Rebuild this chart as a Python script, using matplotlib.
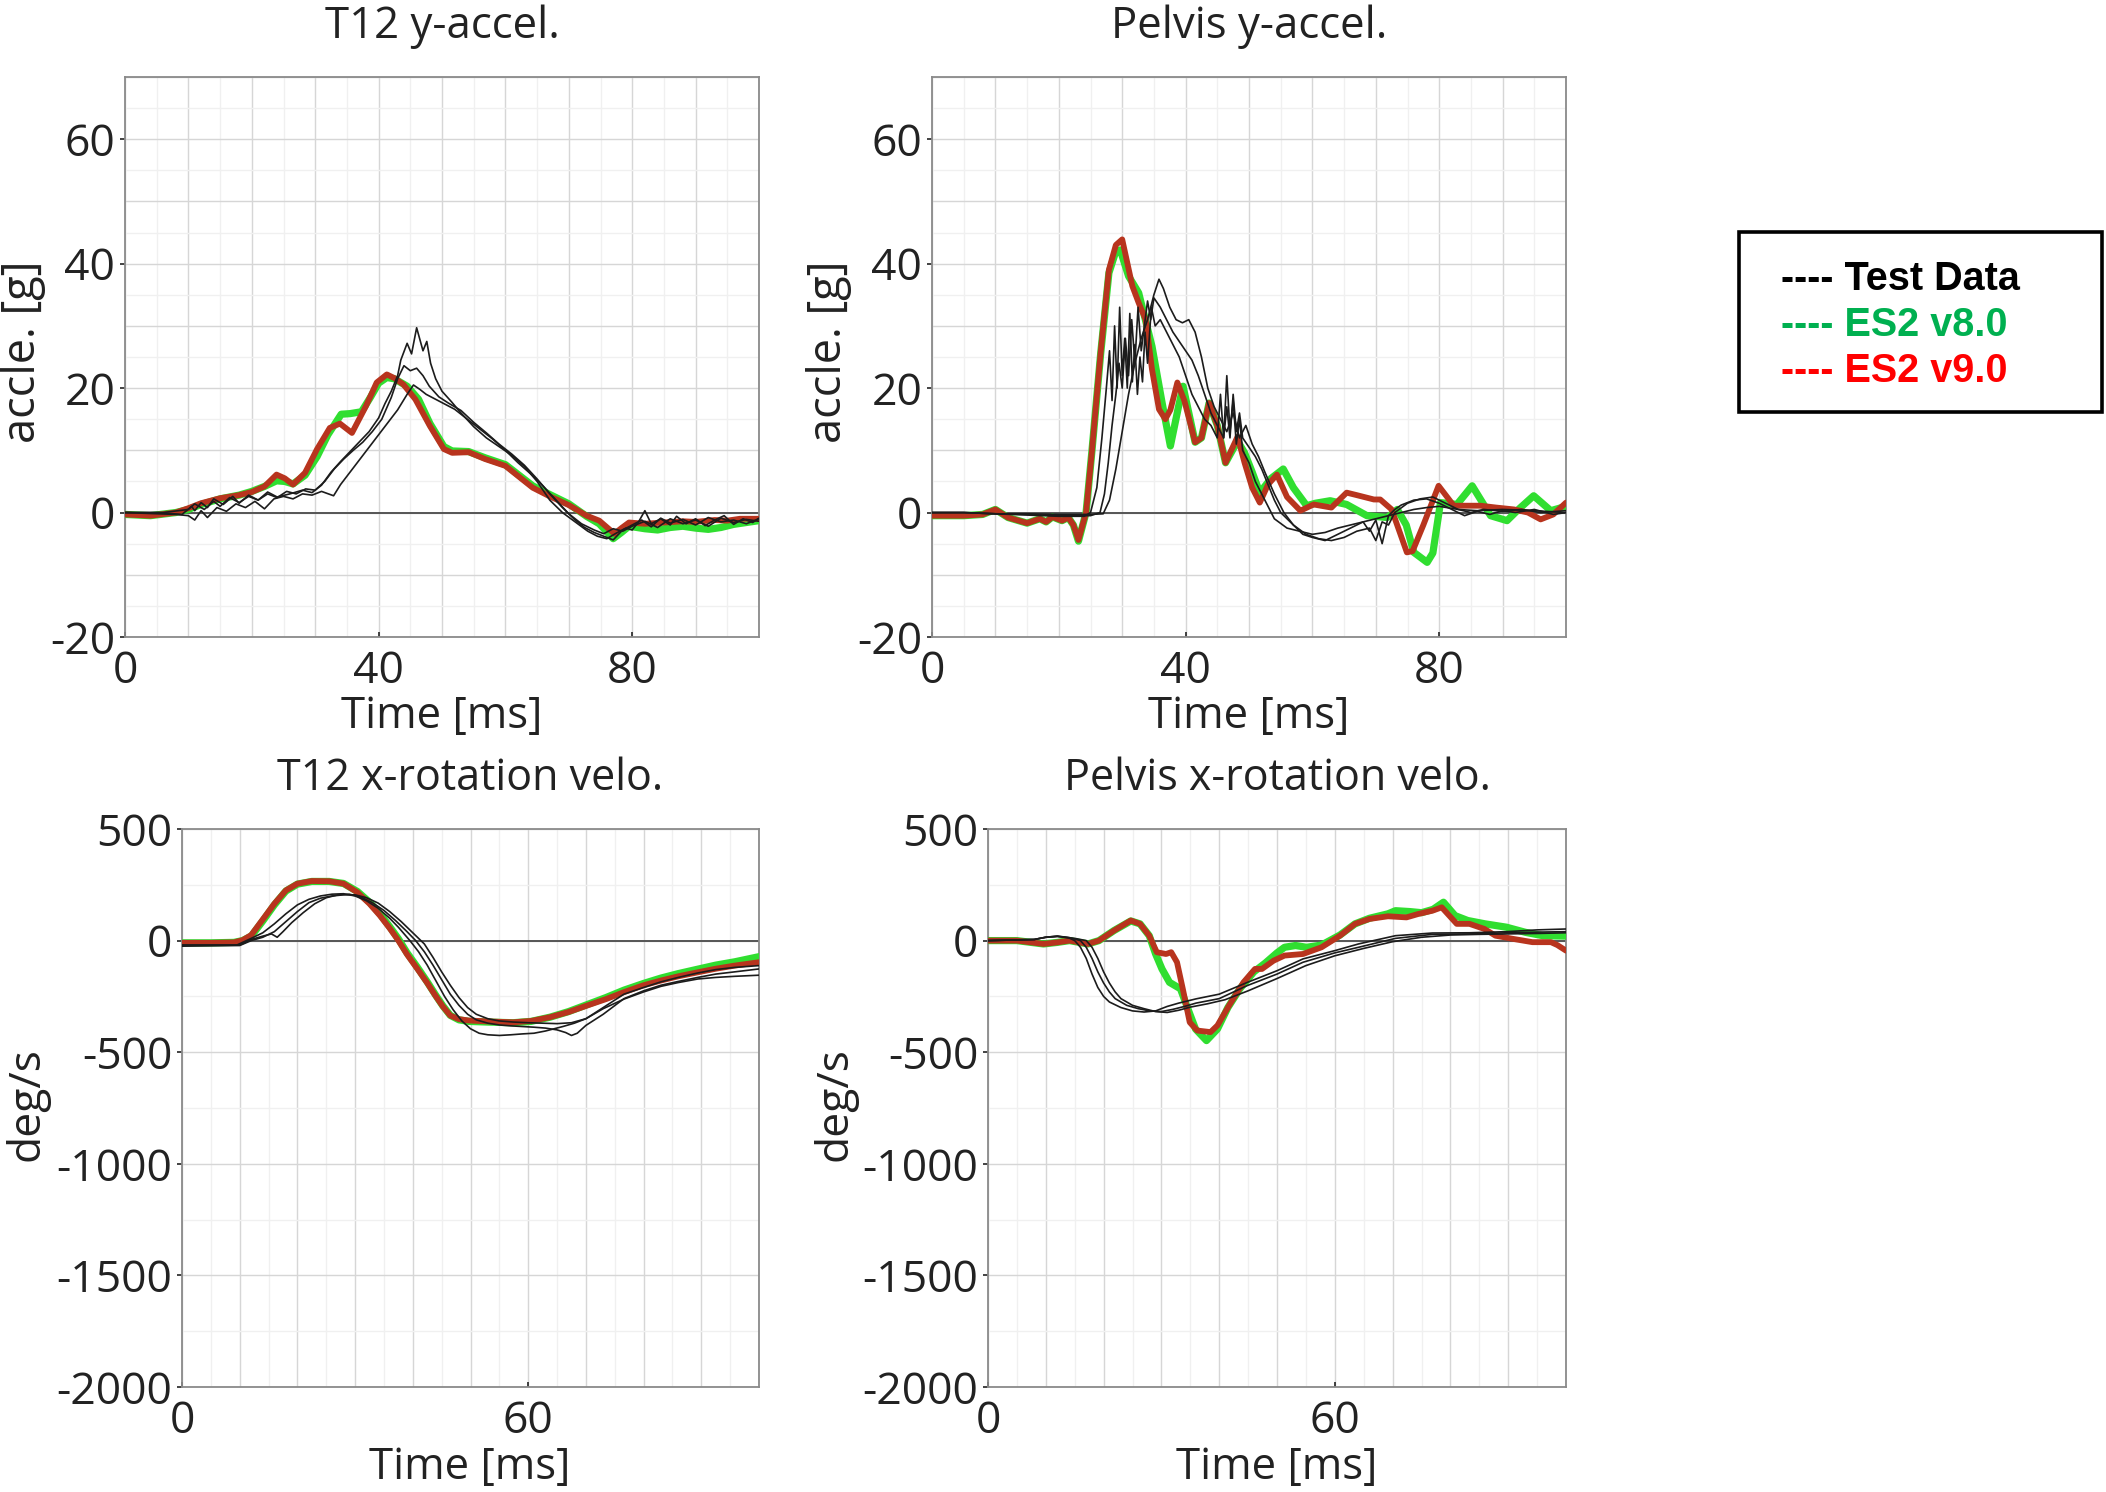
import numpy as np
import matplotlib
matplotlib.use('Agg')
from matplotlib import pyplot as plt
from matplotlib.ticker import MultipleLocator, FuncFormatter
from matplotlib.patches import Rectangle

plt.rcParams['font.family'] = ['Open Sans', 'DejaVu Sans']

W, H = 2106, 1492

# ---- T12 y-accel. [g] ----
t12_acc_v9_t = [0, 4, 8, 10, 12, 15, 18, 20, 22, 23.9, 25.2, 26.5, 28.4, 30.3, 32.3, 33.9, 35.8, 38, 39.7, 41.3,
                42.5, 43.9, 45.8, 48.1, 50.3, 51.6, 54.2, 56.8, 60, 64.3, 67, 70, 72.8, 74.8, 77.2, 78.3, 79.5, 82,
                85, 88, 90, 93, 95, 97, 100]
t12_acc_v9 = [-0.3, -0.5, 0, 0.7, 1.5, 2.3, 2.8, 3.3, 4.2, 6.1, 5.5, 4.5, 6.4, 10.2, 13.6, 14.3, 12.8, 17.1, 20.9,
              22.2, 21.6, 20.6, 18.2, 13.9, 10.2, 9.6, 9.7, 8.6, 7.5, 4.0, 2.6, 1.2, -0.5, -1.3, -3.4, -2.5, -1.6,
              -1.8, -1.6, -1.4, -1.5, -1.2, -1.3, -1.0, -1.0]
t12_acc_v8_t = [0, 4, 8, 10, 12, 15, 18, 20, 22, 23.9, 25.2, 26.5, 28.4, 30.3, 32, 34.1, 35.5, 37.3, 38.7, 40,
                41.3, 42.5, 44.5, 46.3, 48.1, 50.3, 51.6, 54.2, 56.8, 60, 64.3, 67, 70, 72.8, 74.8, 77, 78.3, 79.5,
                82, 84, 86, 88, 90, 92, 94, 96, 98, 100]
t12_acc_v8 = [-0.3, -0.5, 0, 0.5, 1.3, 2.2, 2.8, 3.4, 4.2, 5.1, 5.0, 4.6, 6.0, 9.0, 12.5, 15.8, 15.9, 16.2, 18.5,
              20.8, 21.7, 21.5, 20.3, 18.2, 14.3, 10.6, 9.9, 9.8, 8.8, 7.7, 4.3, 2.9, 1.4, -0.6, -1.8, -4.2, -3.2,
              -2.2, -2.6, -2.8, -2.4, -2.2, -2.5, -2.7, -2.4, -1.9, -1.6, -1.3]
t12_acc_test1_t = [0, 5, 9, 10.5, 11, 12, 13, 14, 15.5, 17, 18, 19.5, 21, 22.5, 24, 26, 28, 29.5, 31, 32.5, 34,
                   35.5, 37, 38.5, 40, 41, 42, 43, 43.5, 44.5, 45.2, 46, 47, 47.6, 48.2, 49, 50, 51.5, 53, 55, 57,
                   59, 61, 63, 65, 67, 69, 71, 73, 74.5, 76, 77.5, 79, 80, 81, 82, 83, 84.5, 86, 87, 88.5, 90,
                   91.5, 93, 94.5, 96, 97.5, 99, 100]
t12_acc_test1 = [0, 0, -0.3, 1.0, 0.3, 1.6, 0.8, 2.2, 1.3, 2.6, 1.5, 2.8, 2.0, 3.3, 2.5, 3.0, 3.6, 3.2, 4.4, 6.5,
                 8.2, 9.8, 11.4, 13.0, 15.2, 17.5, 19.5, 22.0, 24.5, 27.2, 25.5, 29.7, 26.0, 27.5, 24.0, 21.5,
                 19.5, 17.8, 16.0, 13.8, 12.0, 10.6, 9.2, 7.4, 5.0, 2.0, 0.0, -1.5, -3.0, -3.8, -4.2, -3.3, -2.5,
                 -2.8, -1.5, 0.3, -1.8, -1.0, -2.0, -0.6, -1.8, -1.0, -2.1, -1.2, -0.5, -1.9, -1.0, -1.6, -0.9]
t12_acc_test2_t = [0, 6, 10, 11, 12.5, 14, 15, 16.5, 18, 19.5, 21, 22.5, 24, 25.5, 27, 28.5, 30, 31.5, 33, 34.5,
                   36, 37.5, 39, 40.5, 42, 43, 44, 45, 46, 47, 48, 49.5, 51, 53, 55, 57, 59, 61, 63, 65, 67, 69,
                   71, 72.5, 74, 75.5, 77, 78.5, 80, 81.5, 83, 84.5, 86, 88, 90, 92, 94, 96, 98, 100]
t12_acc_test2 = [0, 0, 0.5, 1.4, 0.5, 1.8, 1.0, 2.4, 1.6, 2.6, 2.0, 3.0, 2.4, 3.4, 3.0, 3.8, 3.6, 5.0, 7.0, 8.6,
                 10.0, 11.3, 13.0, 15.0, 18.5, 21.5, 23.6, 22.8, 23.2, 22.0, 20.3, 18.6, 17.6, 16.4, 14.5, 12.8,
                 11.0, 9.4, 7.6, 5.4, 3.0, 0.8, -1.2, -2.4, -3.2, -3.8, -4.4, -2.8, -2.0, -1.2, -2.3, -0.9, -1.7,
                 -1.1, -2.0, -0.8, -1.5, -1.2, -1.8, -1.0]
t12_acc_test3_t = [0, 8, 10, 11, 12, 13, 14.5, 16, 17.5, 19, 20.5, 22, 23.5, 25, 26.5, 28, 29.5, 31, 32.9, 34,
                   35.5, 37, 38.5, 40, 41.5, 43, 44.5, 45.5, 46.5, 47.5, 49, 50.5, 52, 54, 56, 58, 60, 62, 64, 66,
                   68, 70, 72, 74, 75.5, 77, 78.5, 80, 82, 84, 86, 88, 90, 92, 94, 96, 98, 100]
t12_acc_test3 = [0, -0.3, -0.5, -1.2, 0.3, -0.8, 0.8, 0.2, 1.4, 0.8, 1.8, 0.6, 2.2, 2.6, 2.2, 3.0, 2.8, 3.4, 2.7,
                 4.5, 6.5, 8.5, 10.5, 12.5, 14.5, 16.5, 19.0, 20.5, 19.8, 19.0, 18.2, 17.4, 16.6, 15.0, 13.4, 11.8,
                 10.0, 8.0, 6.2, 4.2, 2.0, -0.2, -1.8, -2.8, -3.4, -2.6, -3.0, -2.2, -1.4, -2.4, -1.0, -1.8, -1.2,
                 -2.2, -0.9, -1.6, -1.1, -1.4]

# ---- Pelvis y-accel. [g] ----
pel_acc_v9_t = [0, 5, 8, 10, 12, 15, 17, 18, 19, 20.5, 21.5, 22.3, 23.1, 24.3, 25.2, 26.6, 27.9, 29, 30, 31.6,
                32.6, 33.7, 34.7, 35.8, 36.8, 37.6, 38.7, 39.8, 41.5, 42.5, 43.7, 45, 46.3, 48.2, 49.3, 50.5, 51.7,
                53, 54.4, 56, 58.1, 60.2, 63, 65.4, 67, 69.7, 70.7, 72.5, 74.9, 75.8, 77.5, 79.9, 82.3, 86.5, 89,
                91.8, 94, 96, 98, 100]
pel_acc_v9 = [-0.5, -0.5, -0.3, 0.5, -0.8, -1.7, -1.0, -1.5, -0.7, -1.3, -0.8, -2.0, -4.4, 0.0, 9.6, 25.7, 39.0,
              43.0, 43.9, 36.4, 33.7, 31.0, 23.0, 16.6, 15.0, 16.5, 20.9, 18.0, 11.3, 12.0, 17.6, 14.0, 8.0, 12.2,
              8.0, 4.0, 1.6, 4.5, 6.1, 2.5, 0.3, 1.3, 0.8, 3.2, 2.8, 2.1, 2.1, 0.5, -6.4, -6.2, -2.0, 4.3, 1.1,
              1.1, 0.8, 0.5, 0.0, -1.1, -0.3, 1.6]
pel_acc_v8_t = [0, 5, 8, 10, 12, 15, 17, 18, 19, 20.5, 21.5, 22.3, 23.1, 24.3, 25.2, 26.6, 27.9, 29, 29.7, 31,
                32.6, 34.7, 36.3, 37.6, 38.9, 39.6, 41.5, 42.5, 43.7, 45, 46.3, 48.2, 49.3, 50.5, 51.7, 53.5, 55.4,
                57, 59.1, 60.5, 62.8, 65.4, 68.6, 71.8, 73.4, 74.8, 76, 78.1, 79, 80.2, 82.8, 85.2, 88.1, 90.7,
                92.5, 94.9, 97.6, 100]
pel_acc_v8 = [-0.5, -0.5, -0.3, 0.5, -0.8, -1.7, -1.0, -1.5, -0.7, -1.3, -0.8, -2.0, -4.6, 0.0, 9.6, 25.5, 38.5,
              42.0, 42.2, 38.0, 35.3, 26.7, 17.6, 10.7, 17.1, 20.3, 11.3, 12.0, 17.6, 14.0, 8.0, 11.5, 9.6, 6.5,
              3.2, 5.5, 7.0, 4.0, 1.1, 1.5, 1.9, 1.3, -0.5, -0.8, 0.5, -2.0, -6.4, -8.0, -6.5, 1.6, 1.3, 4.3,
              -0.5, -1.3, 0.5, 2.7, 0.3, 1.0]
pel_acc_test1_t = [0, 5, 10, 15, 20, 24, 25, 26, 26.8, 27.5, 28, 28.4, 28.8, 29.2, 29.6, 30, 30.4, 30.8, 31.2,
                   31.6, 32, 32.4, 32.8, 33.2, 33.6, 34, 34.6, 35.2, 36, 37, 38, 39, 40, 41, 42, 43, 44, 45, 45.5,
                   46, 46.5, 47, 47.5, 48, 48.5, 49, 50, 51, 52, 53, 54, 56, 58, 60, 62, 64, 66, 68, 69, 70, 71,
                   72, 73, 74, 76, 78, 80, 82, 84, 86, 88, 90, 92, 95, 98, 100]
pel_acc_test1 = [0, 0, -0.2, -0.4, -0.6, -0.6, 0, 4, 12, 20, 26, 18, 30, 20, 33, 22, 28, 20, 32, 21, 27, 19, 25,
                 21, 29, 24, 33, 30, 31, 29, 27, 25, 22, 19, 17, 15, 14, 12, 19, 12, 22, 13, 18, 11, 15, 10, 8, 5,
                 3, 1, -1, -2.5, -3, -3.5, -3.2, -2.5, -2, -1.5, -3, -1.2, -5, -0.5, 0.5, 1.2, 2, 2.2, 1.5, 0.5,
                 -0.5, 0.2, -0.3, 0.3, 0, 0.5, -0.3, 0]
pel_acc_test2_t = [0, 5, 10, 15, 20, 25, 26.5, 27.2, 27.8, 28.4, 29, 29.5, 30, 30.5, 31, 31.5, 32, 32.5, 33, 33.5,
                   34, 34.5, 35, 36, 37, 38, 39, 40, 41, 42, 43, 44, 45, 46, 46.5, 47, 47.5, 48, 48.5, 49, 50, 51,
                   52, 53, 54, 55, 57, 59, 61, 63, 65, 67, 69, 70, 71, 72, 73, 75, 77, 79, 81, 83, 85, 87, 90, 93,
                   96, 100]
pel_acc_test2 = [0, 0, -0.2, -0.3, -0.5, -0.5, 0, 3, 8, 14, 19, 24, 20, 28, 22, 31, 24, 33, 26, 30, 34, 31, 34.5,
                 33, 31, 29, 27.5, 26, 24.5, 22, 19, 16, 14, 12, 17, 12, 19, 13, 16, 12, 10.5, 9, 7, 4.5, 2, 0,
                 -2, -3.5, -4.2, -4.5, -4, -3, -2.5, -4.5, -1.5, -2, 0, 1.5, 2.2, 2.5, 1.5, 0.5, 0, 0.5, 0.2, 0.5,
                 0, 0.3]
pel_acc_test3_t = [0, 5, 10, 15, 20, 25, 27, 28, 29, 30, 31, 32, 33, 34, 35, 35.8, 36.5, 37.5, 38.5, 39.5, 40.5,
                   41.5, 42.5, 43.5, 44.5, 45.5, 46.5, 47.5, 48.5, 49.5, 50.5, 51.5, 52.5, 54, 55.5, 57, 58.5, 60,
                   62, 64, 66, 68, 70, 72, 74, 76, 78, 80, 83, 86, 90, 95, 100]
pel_acc_test3 = [0, 0, -0.2, -0.2, -0.3, -0.3, -0.2, 2, 7, 13, 19, 24, 28, 31, 35, 37.5, 36, 33, 31, 30.5, 31, 29,
                 25, 20, 17, 15, 13, 16, 12, 14, 11, 9, 6.5, 3, 0, -2, -3.5, -4, -4.5, -3.5, -2.5, -1.5, -1, -0.5,
                 0, 0.5, 0.8, 1, 0.5, 0.3, 0.5, 0.3, 0]

# ---- T12 x-rotation velo. [deg/s] ----
t12_rot_sim_t = [0, 5, 9, 10.5, 12, 14, 16, 18, 20, 22.5, 25.5, 28, 30.4, 32.5, 34.3, 36, 37.5, 39, 40.8, 42.5,
                 43.9, 45.2, 46.5, 48, 49.7, 53, 57.4, 60.5, 63.8, 67, 70.2, 73.5, 76.6, 80, 83, 86, 89.4, 92.5,
                 95.8, 100]
t12_rot_v9 = [-10, -10, -8, 2, 25, 95, 165, 225, 255, 267, 266, 255, 216, 165, 112, 55, 0, -62, -127, -190, -246,
              -295, -336, -352, -358, -362, -366, -360, -343, -320, -291, -262, -231, -200, -179, -160, -142, -126,
              -112, -97]
t12_rot_v8 = [-10, -10, -8, 0, 20, 88, 160, 222, 253, 265, 265, 256, 220, 172, 120, 62, 8, -55, -120, -185, -242,
              -292, -335, -355, -362, -365, -368, -362, -343, -318, -287, -255, -222, -192, -168, -148, -128, -110,
              -95, -72]
t12_rot_test1_t = [0, 9.5, 12, 14, 16, 18, 20, 22, 24, 26, 28, 30, 32, 34, 36, 37.5, 39.5, 41, 42.5, 44, 45.5, 47,
                   48.5, 50, 51.5, 53, 55, 57, 59, 61, 63, 64.5, 66, 68, 70, 73, 76.6, 80, 83, 86, 89.4, 92.5,
                   95.8, 100]
t12_rot_test1 = [-20, -20, 10, 35, 75, 120, 160, 185, 200, 208, 210, 200, 178, 145, 100, 60, 0, -50, -110, -180,
                 -250, -310, -360, -395, -415, -422, -425, -422, -418, -415, -405, -395, -385, -370, -350, -305,
                 -262, -230, -205, -188, -172, -165, -160, -155]
t12_rot_test2_t = [0, 10, 12, 14, 15.5, 16.5, 17.5, 19, 21, 23, 25, 27, 29, 31, 33, 35, 37, 39, 40.5, 42, 43.5, 45,
                   46.5, 48, 49.5, 51, 53, 55, 57, 59, 61, 63, 65, 66.5, 67.5, 68.5, 70, 73, 76.6, 80, 83, 86, 89.4,
                   92.5, 95.8, 100]
t12_rot_test2 = [-20, -20, 5, 20, 30, 15, 40, 80, 125, 165, 192, 205, 208, 195, 170, 135, 90, 40, 0, -50, -110,
                 -175, -240, -290, -330, -355, -370, -378, -382, -385, -388, -392, -400, -412, -425, -415, -380,
                 -330, -260, -225, -200, -183, -165, -150, -140, -127]
t12_rot_test3_t = [0, 10, 12, 14, 16, 18, 20, 22, 24, 26, 28, 30, 32, 34, 36, 38, 40, 42, 43.5, 45, 46.5, 48, 49.5,
                   51, 53, 55, 57.5, 60, 62.5, 65, 67.5, 70, 73, 76.6, 80, 83, 86, 89.4, 92.5, 95.8, 100]
t12_rot_test3 = [-25, -22, 0, 15, 40, 85, 130, 170, 190, 200, 205, 205, 192, 168, 130, 85, 35, -15, -75, -140, -200,
                 -255, -300, -330, -350, -360, -365, -368, -370, -372, -368, -350, -300, -240, -210, -185, -165,
                 -145, -130, -120, -112]

# ---- Pelvis x-rotation velo. [deg/s] ----
pel_rot_v9_t = [0, 5, 9.6, 12, 14.1, 17.3, 19.2, 21.8, 24.7, 26.3, 27.9, 29.2, 30.8, 31.7, 32.7, 33.7, 34.9, 36.2,
                38.5, 39.7, 41.7, 44.2, 46.2, 47.4, 49.4, 51.3, 54.5, 57.7, 60.9, 63.5, 66, 69.2, 72.4, 74.4, 76.9,
                78.5, 79.8, 81.1, 83.3, 85.9, 87.8, 91, 94.2, 97.4, 98.5, 100]
pel_rot_v9 = [0, 0, -15, -8, 0, -15, 0, 45, 90, 75, 22, -52, -60, -52, -97, -216, -366, -403, -410, -380, -291,
              -187, -127, -127, -90, -67, -60, -30, 22, 75, 97, 109, 104, 119, 134, 149, 112, 75, 75, 52, 22, 7,
              -7, -7, -20, -45]
pel_rot_v8_t = [0, 5, 9.6, 12, 14.1, 17.3, 19.2, 21.8, 24.7, 26.3, 27.9, 29, 30.1, 31.4, 33.3, 34.5, 35.9, 37.8,
                39.7, 41.5, 43.6, 46, 48, 50, 51.3, 53.2, 55.1, 57.7, 60.9, 63.5, 66, 69.2, 70.5, 73, 75, 77, 78.8,
                80.8, 83, 86, 89.7, 93, 96, 100]
pel_rot_v8 = [0, 0, -15, -8, 0, -15, 0, 45, 88, 75, 22, -60, -127, -187, -216, -300, -396, -448, -396, -300, -215,
              -140, -100, -55, -30, -22, -30, -20, 25, 75, 100, 120, 134, 130, 125, 140, 172, 112, 90, 75, 60, 37,
              22, 20]
pel_rot_test1_t = [0, 8, 10, 12, 14, 15, 16, 17, 18, 19, 20, 21, 23, 25, 27, 29, 31, 33, 36, 40, 44.9, 50, 54.5,
                   60, 64.1, 70.5, 76.9, 83.3, 89.7, 95, 100]
pel_rot_test1 = [0, 5, 15, 20, 12, 0, -30, -80, -150, -210, -250, -275, -300, -315, -320, -315, -295, -280, -261,
                 -240, -187, -135, -82, -45, -15, 22, 34, 35, 40, 48, 52]
pel_rot_test2_t = [0, 8, 10, 12, 14, 16, 17, 18, 19, 20, 21, 22, 24, 26, 28, 30, 32, 34, 36, 40, 44.9, 50, 54.5,
                   60, 64.1, 70.5, 76.9, 83.3, 89.7, 95, 100]
pel_rot_test2 = [0, 5, 15, 20, 14, 0, -30, -80, -140, -190, -230, -260, -290, -305, -315, -318, -308, -295, -280,
                 -260, -201, -150, -97, -55, -30, 10, 28, 30, 35, 38, 40]
pel_rot_test3_t = [0, 8, 10, 12, 15, 17, 18, 19, 20, 21, 22, 23, 25, 27, 29, 31, 33, 35, 38, 41, 45, 50, 55, 60,
                   65, 70, 75, 80, 85, 90, 95, 100]
pel_rot_test3 = [0, 5, 15, 18, 10, 0, -30, -80, -140, -190, -230, -260, -290, -305, -318, -322, -312, -298, -283,
                 -265, -225, -170, -112, -68, -35, -5, 15, 25, 28, 30, 32, 35]

legend_labels = ['---- Test Data', '---- ES2 v8.0', '---- ES2 v9.0']
legend_colors = ['black', '#00B050', '#FF0000']

TEST_COLOR = '#1c1c1c'
V8_COLOR = '#30DE30'
V9_COLOR = '#B8341E'


def px_rect(l, t, r, b):
    return [l / W, 1 - b / H, (r - l) / W, (b - t) / H]


def label_fmt(shown):
    return FuncFormatter(lambda v, p: f'{v:g}' if round(v) in shown else '')


def style(ax, xlim, ylim, xstep, ystep, xshown, yshown):
    ax.set_xlim(*xlim)
    ax.set_ylim(*ylim)
    ax.xaxis.set_major_locator(MultipleLocator(xstep))
    ax.xaxis.set_minor_locator(MultipleLocator(xstep / 2))
    ax.yaxis.set_major_locator(MultipleLocator(ystep))
    ax.yaxis.set_minor_locator(MultipleLocator(ystep / 2))
    ax.xaxis.set_major_formatter(label_fmt(xshown))
    ax.yaxis.set_major_formatter(label_fmt(yshown))
    ax.grid(which='major', color='#d6d6d6', lw=1.0)
    ax.grid(which='minor', color='#f0f0f0', lw=1.0)
    ax.set_axisbelow(True)
    ax.tick_params(which='minor', length=0)
    ax.tick_params(which='major', labelsize=32, colors='#222222', length=3.6, width=1.2)
    ax.tick_params(axis='y', direction='out', pad=3.5)
    ax.tick_params(axis='x', direction='in', pad=9)
    # tick marks only where a label is shown
    for axis, shown in ((ax.xaxis, xshown), (ax.yaxis, yshown)):
        for tick, loc in zip(axis.get_major_ticks(), axis.get_majorticklocs()):
            if round(loc) not in shown:
                tick.tick1line.set_visible(False)
            tick.tick2line.set_visible(False)
    for s in ax.spines.values():
        s.set_color('#8a8a8a')
        s.set_linewidth(1.3)
    ax.axhline(0, color='#555555', lw=1.4, zorder=1.5)


def draw(ax, tests, v8, v9):
    ax.plot(v8[0], v8[1], color=V8_COLOR, lw=5.2, solid_joinstyle='round', solid_capstyle='round', zorder=3)
    ax.plot(v9[0], v9[1], color=V9_COLOR, lw=4.2, solid_joinstyle='round', solid_capstyle='round', zorder=4)
    for tt, vv in tests:
        ax.plot(tt, vv, color=TEST_COLOR, lw=1.2, zorder=5)


fig = plt.figure(figsize=(W / 100, H / 100), dpi=100)

ax1 = fig.add_axes(px_rect(125, 77, 759, 637))
style(ax1, (0, 100), (-20, 70), 10, 10, {0, 40, 80}, {-20, 0, 20, 40, 60})
draw(ax1, [(t12_acc_test1_t, t12_acc_test1), (t12_acc_test2_t, t12_acc_test2), (t12_acc_test3_t, t12_acc_test3)],
     (t12_acc_v8_t, t12_acc_v8), (t12_acc_v9_t, t12_acc_v9))

ax2 = fig.add_axes(px_rect(932, 77, 1566, 637))
style(ax2, (0, 100), (-20, 70), 10, 10, {0, 40, 80}, {-20, 0, 20, 40, 60})
draw(ax2, [(pel_acc_test1_t, pel_acc_test1), (pel_acc_test2_t, pel_acc_test2), (pel_acc_test3_t, pel_acc_test3)],
     (pel_acc_v8_t, pel_acc_v8), (pel_acc_v9_t, pel_acc_v9))

rot_labels = {500, 0, -500, -1000, -1500, -2000}
ax3 = fig.add_axes(px_rect(182, 829, 759, 1387))
style(ax3, (0, 100), (-2000, 500), 10, 500, {0, 60}, rot_labels)
draw(ax3, [(t12_rot_test1_t, t12_rot_test1), (t12_rot_test2_t, t12_rot_test2), (t12_rot_test3_t, t12_rot_test3)],
     (t12_rot_sim_t, t12_rot_v8), (t12_rot_sim_t, t12_rot_v9))

ax4 = fig.add_axes(px_rect(988, 829, 1566, 1387))
style(ax4, (0, 100), (-2000, 500), 10, 500, {0, 60}, rot_labels)
draw(ax4, [(pel_rot_test1_t, pel_rot_test1), (pel_rot_test2_t, pel_rot_test2), (pel_rot_test3_t, pel_rot_test3)],
     (pel_rot_v8_t, pel_rot_v8), (pel_rot_v9_t, pel_rot_v9))


def ftext(x, y, s, **kw):
    fig.text(x / W, 1 - y / H, s, ha='center', va='center', color='#222222', **kw)


# titles
ftext(442, 27, 'T12 y-accel.', fontsize=31.5)
ftext(1249, 27, 'Pelvis y-accel.', fontsize=31.5)
ftext(470, 779, 'T12 x-rotation velo.', fontsize=31)
ftext(1277, 779, 'Pelvis x-rotation velo.', fontsize=31)
# axis labels
for x, y in [(442, 717), (1249, 717), (470, 1468), (1277, 1468)]:
    ftext(x, y, 'Time [ms]', fontsize=31.5)
ftext(23, 352, 'accle. [g]', fontsize=32.5, rotation=90)
ftext(829, 352, 'accle. [g]', fontsize=32.5, rotation=90)
ftext(27, 1104, 'deg/s', fontsize=32, rotation=90)
ftext(835, 1104, 'deg/s', fontsize=32, rotation=90)

# legend box
fig.patches.append(Rectangle((1739 / W, 1 - 412 / H), (2102 - 1739) / W, (412 - 232) / H,
                             transform=fig.transFigure, fill=False, lw=2.6, ec='black'))
for i, (lab, col) in enumerate(zip(legend_labels, legend_colors)):
    fig.text(1781 / W, 1 - (279 + 46 * i) / H, lab, ha='left', va='center', color=col,
             fontsize=28.5, fontweight='bold', family=['Liberation Sans', 'DejaVu Sans'])

fig.savefig('out.png', dpi=100, facecolor='white')
